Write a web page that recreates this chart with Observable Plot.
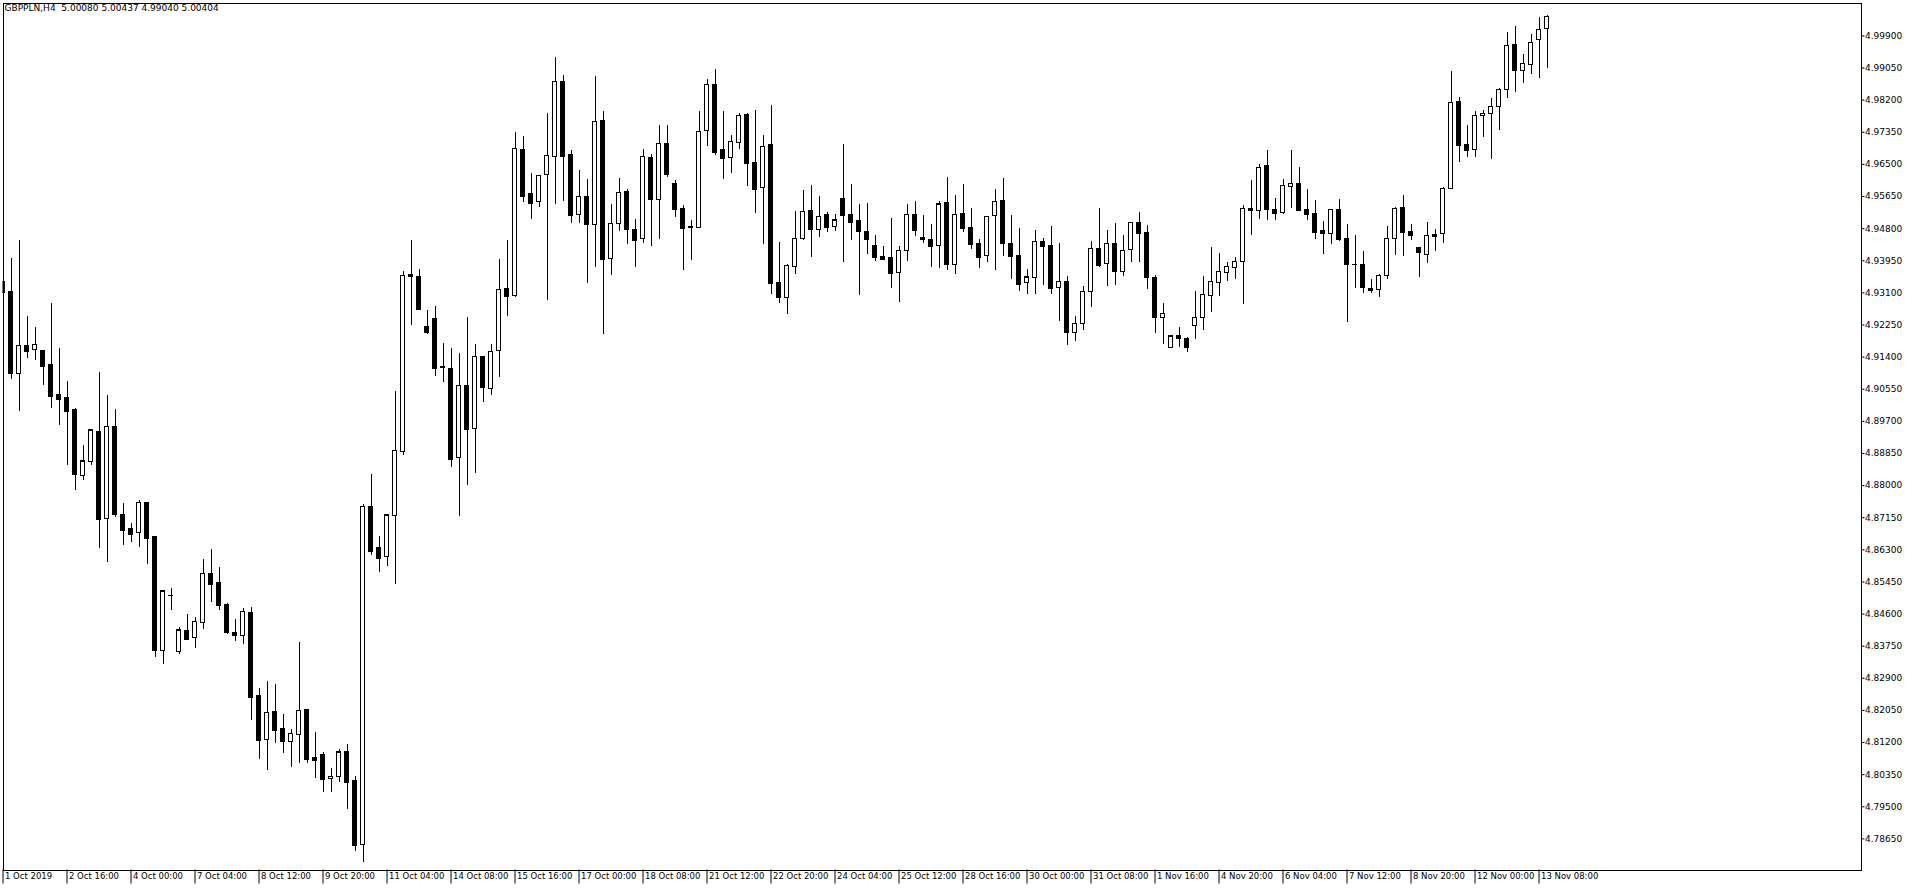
<!DOCTYPE html>
<html>
<head>
<meta charset="utf-8">
<script src="https://cdn.jsdelivr.net/npm/d3@7"></script>
<script src="https://cdn.jsdelivr.net/npm/@observablehq/plot@0.6"></script>
<style>
  html, body { margin: 0; padding: 0; background: #fff; overflow: hidden; }
  #chart svg line, #chart svg rect { shape-rendering: crispEdges; }
  #chart svg text { white-space: pre; }
</style>
</head>
<body>
<div id="chart"></div>
<script>
const symbol = "GBPPLN";
const timeframe = "H4";

const opens = [
  4.9338, 4.9311, 4.9095, 4.9170, 4.9159, 4.9155, 4.9118, 4.9041, 4.9033, 4.8999,
  4.8826, 4.8863, 4.8943, 4.8712, 4.8956, 4.8721, 4.8684, 4.8675, 4.8755, 4.8663,
  4.8363, 4.8509, 4.8359, 4.8414, 4.8396, 4.8436, 4.8567, 4.8541, 4.8485, 4.8411,
  4.8403, 4.8462, 4.8242, 4.8127, 4.8200, 4.8157, 4.8121, 4.8141, 4.8205, 4.8078,
  4.8086, 4.8024, 4.8028, 4.8094, 4.8017, 4.7848, 4.8744, 4.8636, 4.8611, 4.8719,
  4.8888, 4.9358, 4.9353, 4.9219, 4.9242, 4.9114, 4.9109, 4.8873, 4.9064, 4.8949,
  4.9141, 4.9055, 4.9156, 4.9321, 4.9302, 4.9689, 4.9572, 4.9551, 4.9622, 4.9669,
  4.9867, 4.9674, 4.9516, 4.9564, 4.9490, 4.9766, 4.9399, 4.9492, 4.9576, 4.9477,
  4.9452, 4.9667, 4.9555, 4.9705, 4.9599, 4.9533, 4.9482, 4.9481, 4.9739, 4.9861,
  4.9687, 4.9666, 4.9707, 4.9782, 4.9655, 4.9588, 4.9700, 4.9337, 4.9297, 4.9379,
  4.9452, 4.9527, 4.9477, 4.9517, 4.9485, 4.9559, 4.9517, 4.9499, 4.9472, 4.9435,
  4.9406, 4.9401, 4.9362, 4.9421, 4.9517, 4.9456, 4.9449, 4.9434, 4.9547, 4.9383,
  4.9520, 4.9482, 4.9440, 4.9407, 4.9514, 4.9552, 4.9440, 4.9408, 4.9337, 4.9350,
  4.9445, 4.9433, 4.9323, 4.9339, 4.9204, 4.9228, 4.9313, 4.9427, 4.9387, 4.9440,
  4.9366, 4.9424, 4.9495, 4.9469, 4.9350, 4.9244, 4.9165, 4.9197, 4.9189, 4.9223,
  4.9244, 4.9302, 4.9337, 4.9363, 4.9376, 4.9392, 4.9533, 4.9527, 4.9646, 4.9530,
  4.9521, 4.9591, 4.9599, 4.9530, 4.9519, 4.9475, 4.9465, 4.9530, 4.9453, 4.9385,
  4.9384, 4.9321, 4.9318, 4.9355, 4.9453, 4.9535, 4.9472, 4.9429, 4.9411, 4.9464,
  4.9466, 4.9585, 4.9816, 4.9702, 4.9688, 4.9779, 4.9784, 4.9802, 4.9847, 4.9965,
  4.9898, 4.9914, 4.9980, 5.00080
];

const highs = [
  4.9369, 4.9401, 4.9449, 4.9248, 4.9218, 4.9158, 4.9282, 4.9163, 4.9076, 4.9003,
  4.8906, 4.8949, 4.9099, 4.9039, 4.9001, 4.8753, 4.8700, 4.8761, 4.8755, 4.8663,
  4.8520, 4.8528, 4.8424, 4.8459, 4.8451, 4.8604, 4.8631, 4.8583, 4.8487, 4.8446,
  4.8474, 4.8477, 4.8262, 4.8282, 4.8274, 4.8194, 4.8155, 4.8385, 4.8205, 4.8147,
  4.8094, 4.8051, 4.8102, 4.8115, 4.8030, 4.8750, 4.8829, 4.8665, 4.8723, 4.9050,
  4.9367, 4.9449, 4.9371, 4.9264, 4.9274, 4.9176, 4.9163, 4.9150, 4.9244, 4.9174,
  4.9141, 4.9174, 4.9398, 4.9449, 4.9735, 4.9725, 4.9626, 4.9620, 4.9784, 4.9932,
  4.9885, 4.9687, 4.9634, 4.9610, 4.9883, 4.9790, 4.9544, 4.9613, 4.9584, 4.9504,
  4.9689, 4.9676, 4.9753, 4.9753, 4.9607, 4.9540, 4.9502, 4.9790, 4.9875, 4.9901,
  4.9790, 4.9727, 4.9785, 4.9784, 4.9793, 4.9727, 4.9806, 4.9443, 4.9385, 4.9525,
  4.9581, 4.9594, 4.9565, 4.9522, 4.9517, 4.9702, 4.9597, 4.9544, 4.9547, 4.9461,
  4.9433, 4.9507, 4.9432, 4.9544, 4.9552, 4.9515, 4.9491, 4.9553, 4.9615, 4.9568,
  4.9598, 4.9533, 4.9451, 4.9511, 4.9583, 4.9613, 4.9515, 4.9480, 4.9371, 4.9475,
  4.9453, 4.9486, 4.9441, 4.9352, 4.9248, 4.9328, 4.9447, 4.9533, 4.9475, 4.9494,
  4.9462, 4.9495, 4.9523, 4.9488, 4.9356, 4.9282, 4.9195, 4.9218, 4.9192, 4.9314,
  4.9353, 4.9430, 4.9413, 4.9390, 4.9404, 4.9541, 4.9607, 4.9649, 4.9687, 4.9559,
  4.9609, 4.9687, 4.9642, 4.9584, 4.9554, 4.9499, 4.9530, 4.9557, 4.9491, 4.9462,
  4.9420, 4.9345, 4.9359, 4.9486, 4.9535, 4.9568, 4.9490, 4.9429, 4.9497, 4.9477,
  4.9589, 4.9897, 4.9827, 4.9753, 4.9790, 4.9793, 4.9824, 4.9850, 4.9999, 5.0016,
  4.9941, 4.9995, 5.0039, 5.00437
];

const lows = [
  4.9300, 4.9082, 4.8996, 4.9135, 4.9132, 4.9066, 4.9005, 4.8960, 4.8854, 4.8786,
  4.8814, 4.8854, 4.8634, 4.8597, 4.8715, 4.8642, 4.8649, 4.8637, 4.8592, 4.8346,
  4.8327, 4.8470, 4.8354, 4.8391, 4.8370, 4.8419, 4.8491, 4.8470, 4.8407, 4.8388,
  4.8380, 4.8179, 4.8076, 4.8047, 4.8118, 4.8092, 4.8055, 4.8065, 4.8065, 4.8026,
  4.7989, 4.7989, 4.8014, 4.7944, 4.7832, 4.7803, 4.8615, 4.8571, 4.8585, 4.8537,
  4.8879, 4.9224, 4.9265, 4.9201, 4.9090, 4.9073, 4.8849, 4.8719, 4.8801, 4.8833,
  4.9021, 4.9039, 4.9087, 4.9248, 4.9299, 4.9550, 4.9503, 4.9537, 4.9290, 4.9543,
  4.9553, 4.9494, 4.9494, 4.9336, 4.9378, 4.9199, 4.9357, 4.9473, 4.9439, 4.9378,
  4.9441, 4.9434, 4.9452, 4.9616, 4.9510, 4.9370, 4.9396, 4.9480, 4.9698, 4.9674,
  4.9611, 4.9627, 4.9690, 4.9592, 4.9521, 4.9439, 4.9307, 4.9283, 4.9252, 4.9359,
  4.9449, 4.9404, 4.9457, 4.9471, 4.9473, 4.9391, 4.9449, 4.9304, 4.9412, 4.9393,
  4.9396, 4.9322, 4.9285, 4.9394, 4.9459, 4.9441, 4.9378, 4.9375, 4.9370, 4.9359,
  4.9471, 4.9426, 4.9375, 4.9391, 4.9370, 4.9407, 4.9346, 4.9314, 4.9307, 4.9307,
  4.9330, 4.9307, 4.9235, 4.9172, 4.9182, 4.9211, 4.9270, 4.9376, 4.9326, 4.9329,
  4.9352, 4.9391, 4.9391, 4.9320, 4.9202, 4.9174, 4.9162, 4.9166, 4.9153, 4.9187,
  4.9210, 4.9259, 4.9300, 4.9341, 4.9346, 4.9280, 4.9463, 4.9505, 4.9502, 4.9502,
  4.9518, 4.9534, 4.9529, 4.9502, 4.9452, 4.9412, 4.9439, 4.9447, 4.9232, 4.9321,
  4.9309, 4.9309, 4.9299, 4.9346, 4.9410, 4.9407, 4.9449, 4.9350, 4.9389, 4.9420,
  4.9441, 4.9585, 4.9656, 4.9669, 4.9669, 4.9722, 4.9664, 4.9740, 4.9825, 4.9841,
  4.9865, 4.9889, 4.9878, 4.99040
];

const closes = [
  4.9310, 4.9097, 4.9170, 4.9156, 4.9173, 4.9116, 4.9037, 4.9029, 4.8997, 4.8830,
  4.8864, 4.8946, 4.8711, 4.8956, 4.8723, 4.8682, 4.8671, 4.8755, 4.8661, 4.8364,
  4.8520, 4.8508, 4.8417, 4.8393, 4.8440, 4.8567, 4.8539, 4.8483, 4.8412, 4.8402,
  4.8466, 4.8240, 4.8126, 4.8199, 4.8153, 4.8124, 4.8143, 4.8204, 4.8076, 4.8073,
  4.8023, 4.8030, 4.8094, 4.8015, 4.7848, 4.8744, 4.8626, 4.8608, 4.8721, 4.8892,
  4.9355, 4.9354, 4.9265, 4.9205, 4.9111, 4.9113, 4.8870, 4.9064, 4.8949, 4.9141,
  4.9059, 4.9154, 4.9318, 4.9300, 4.9692, 4.9564, 4.9547, 4.9620, 4.9673, 4.9869,
  4.9672, 4.9516, 4.9564, 4.9492, 4.9763, 4.9399, 4.9493, 4.9575, 4.9479, 4.9449,
  4.9670, 4.9558, 4.9705, 4.9624, 4.9531, 4.9481, 4.9483, 4.9736, 4.9861, 4.9682,
  4.9666, 4.9710, 4.9779, 4.9653, 4.9584, 4.9697, 4.9336, 4.9299, 4.9382, 4.9453,
  4.9525, 4.9477, 4.9511, 4.9484, 4.9502, 4.9516, 4.9495, 4.9473, 4.9452, 4.9404,
  4.9399, 4.9362, 4.9421, 4.9517, 4.9476, 4.9452, 4.9434, 4.9544, 4.9386, 4.9517,
  4.9481, 4.9439, 4.9404, 4.9511, 4.9551, 4.9441, 4.9407, 4.9333, 4.9351, 4.9445,
  4.9434, 4.9322, 4.9339, 4.9206, 4.9228, 4.9313, 4.9427, 4.9383, 4.9440, 4.9366,
  4.9421, 4.9495, 4.9466, 4.9350, 4.9244, 4.9255, 4.9195, 4.9190, 4.9165, 4.9244,
  4.9305, 4.9339, 4.9366, 4.9379, 4.9392, 4.9533, 4.9527, 4.9641, 4.9531, 4.9521,
  4.9593, 4.9599, 4.9529, 4.9518, 4.9471, 4.9468, 4.9530, 4.9452, 4.9386, 4.9384,
  4.9325, 4.9317, 4.9355, 4.9453, 4.9533, 4.9471, 4.9461, 4.9416, 4.9461, 4.9460,
  4.9585, 4.9813, 4.9701, 4.9688, 4.9779, 4.9784, 4.9802, 4.9847, 4.9964, 4.9898,
  4.9916, 4.9972, 5.0006, 5.00404
];

// time-axis labels, one every 8 bars starting at bar 0
const xTickLabels = [
  "1 Oct 2019", "2 Oct 16:00", "4 Oct 00:00", "7 Oct 04:00", "8 Oct 12:00",
  "9 Oct 20:00", "11 Oct 04:00", "14 Oct 08:00", "15 Oct 16:00", "17 Oct 00:00",
  "18 Oct 08:00", "21 Oct 12:00", "22 Oct 20:00", "24 Oct 04:00", "25 Oct 12:00",
  "28 Oct 16:00", "30 Oct 00:00", "31 Oct 08:00", "1 Nov 16:00", "4 Nov 20:00",
  "6 Nov 04:00", "7 Nov 12:00", "8 Nov 20:00", "12 Nov 00:00", "13 Nov 08:00"
];
const xTickEvery = 8;

// price-axis labels
const yTicks = [
  4.78650, 4.79500, 4.80350, 4.81200, 4.82050, 4.82900, 4.83750, 4.84600, 4.85450,
  4.86300, 4.87150, 4.88000, 4.88850, 4.89700, 4.90550, 4.91400, 4.92250, 4.93100,
  4.93950, 4.94800, 4.95650, 4.96500, 4.97350, 4.98200, 4.99050, 4.99900
];

const candles = opens.map((o, i) => ({
  i, o, h: highs[i], l: lows[i], c: closes[i], up: closes[i] >= o
}));
const xTicks = xTickLabels.map((_, k) => k * xTickEvery);
const fmt = d3.format(".5f");
const last = candles[candles.length - 1];
const header = `${symbol},${timeframe}  ${fmt(last.o)} ${fmt(last.h)} ${fmt(last.l)} ${fmt(last.c)}`;

const chart = Plot.plot({
  width: 1916,
  height: 888,
  marginLeft: 2.5,
  marginRight: 55.5,
  marginTop: 2.5,
  marginBottom: 18.5,
  style: {
    fontFamily: "'DejaVu Sans', sans-serif",
    fontSize: "9px",
    background: "#fff",
    color: "#000",
    overflow: "visible"
  },
  x: { domain: [0, 232.25], axis: null, label: null },
  y: { domain: [4.77827, 5.00771], axis: null, label: null },
  marks: [
    Plot.ruleX(candles, { x: "i", y1: "l", y2: "h", stroke: "#000", strokeWidth: 1, clip: true }),
    Plot.rect(candles, {
      x1: d => d.i - 0.25, x2: d => d.i + 0.25, y1: "o", y2: "c",
      fill: d => d.up ? "#fff" : "#000", stroke: "#000", strokeWidth: 1, clip: true
    }),
    Plot.ruleY(candles, {
      y: "c", x1: d => d.i - 0.3125, x2: d => d.i + 0.3125, stroke: "#000", strokeWidth: 1, clip: true
    }),
    Plot.frame({ stroke: "#000", strokeWidth: 1 }),
    Plot.axisY({ anchor: "right", label: null, ticks: yTicks, tickFormat: fmt, tickSize: 3, tickPadding: 1, fontSize: 9 }),
    Plot.axisX({ anchor: "bottom", label: null, ticks: xTicks, tickSize: 14, tickFormat: () => "" }),
    Plot.axisX({
      anchor: "bottom", label: null, ticks: xTicks, tickSize: 0, tickPadding: 3,
      tickFormat: d => xTickLabels[d / xTickEvery], textAnchor: "start", dx: 2, fontSize: 8.5
    }),
    Plot.text([header], {
      frameAnchor: "top-left", text: d => d, textAnchor: "start", lineAnchor: "top",
      dx: 1.5, dy: 1.5, fontSize: 9, fill: "#000"
    })
  ]
});
document.getElementById("chart").appendChild(chart);
</script>
</body>
</html>
